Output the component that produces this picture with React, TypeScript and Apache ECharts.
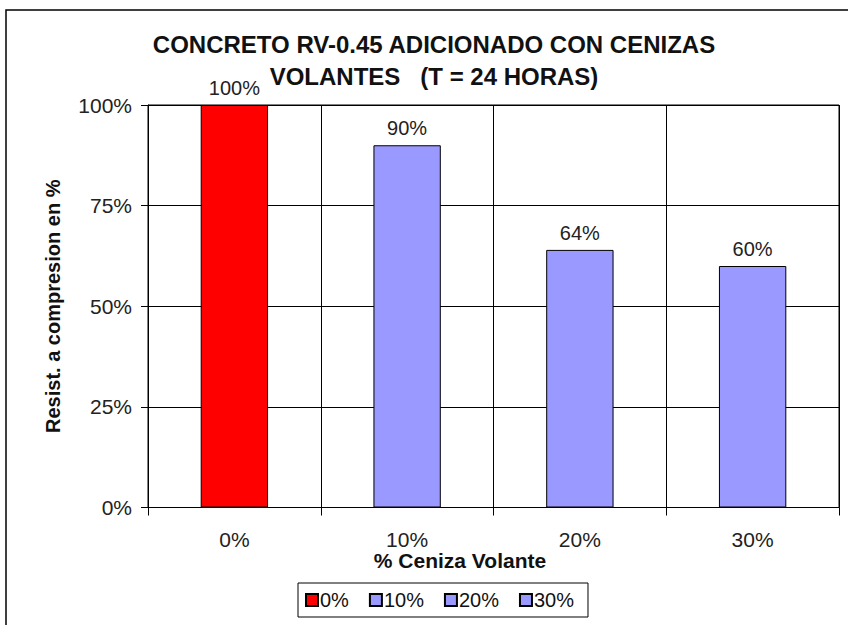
import React, { useEffect, useRef } from "react";
import * as echarts from "echarts";

const categories = ["0%", "10%", "20%", "30%"];
const seriesNames = ["0%", "10%", "20%", "30%"];
const values = [100, 90, 64, 60];
const colors = ["#FF0000", "#9999FF", "#9999FF", "#9999FF"];
const yTicks = [0, 25, 50, 75, 100];

export default function App() {
  const ref = useRef<HTMLDivElement>(null);
  useEffect(() => {
    if (!ref.current) return;
    const chart = echarts.init(ref.current, undefined, { renderer: "svg" });
    const font = "Liberation Sans, Arial, sans-serif";
    const series = seriesNames.map((name, i) => ({
      name,
      type: "bar",
      stack: "s",
      barWidth: "39%",
      data: categories.map((_, j) => (j === i ? values[i] : "-")),
      itemStyle: { color: colors[i], borderColor: "#000", borderWidth: 1 },
      label: {
        show: true,
        position: "top",
        distance: 7,
        formatter: "{c}%",
        fontFamily: font,
        fontSize: 20,
        color: "#222",
      },
    }));
    chart.setOption({
      animation: false,
      backgroundColor: "#fff",
      title: {
        text: "CONCRETO RV-0.45 ADICIONADO CON CENIZAS\nVOLANTES   (T = 24 HORAS)",
        left: 434,
        top: 29,
        padding: 0,
        textAlign: "center",
        textStyle: {
          fontFamily: font,
          fontSize: 24,
          fontWeight: "bold",
          color: "#111",
          lineHeight: 31.5,
        },
      },
      legend: {
        data: seriesNames,
        left: 298,
        top: 583,
        orient: "horizontal",
        itemWidth: 12,
        itemHeight: 12,
        itemGap: 20,
        icon: "rect",
        padding: [7, 14, 7, 7],
        borderColor: "#000",
        borderWidth: 1,
        textStyle: { fontFamily: font, fontSize: 20, color: "#111", padding: [0, 0, 0, -3] },
      },
      grid: {
        left: 148,
        top: 105,
        right: 9,
        bottom: 117.5,
        show: true,
        borderColor: "#000",
        borderWidth: 1,
      },
      xAxis: {
        type: "category",
        data: categories,
        axisLine: { lineStyle: { color: "#000" } },
        axisTick: { show: true, length: 8, lineStyle: { color: "#000" } },
        splitLine: { show: true, lineStyle: { color: "#000" } },
        axisLabel: { fontFamily: font, fontSize: 21, color: "#222", margin: 21 },
      },
      yAxis: {
        type: "value",
        min: yTicks[0],
        max: yTicks[yTicks.length - 1],
        interval: 25,
        name: "Resist. a compresion en %",
        nameLocation: "middle",
        nameGap: 85,
        nameTextStyle: { fontFamily: font, fontSize: 20, fontWeight: "bold", color: "#111" },
        axisLine: { show: true, lineStyle: { color: "#000" } },
        axisTick: { show: true, length: 7, lineStyle: { color: "#000" } },
        splitLine: { show: true, lineStyle: { color: "#000" } },
        axisLabel: { formatter: "{value}%", fontFamily: font, fontSize: 21, color: "#222", margin: 16 },
      },
      graphic: [
        {
          type: "rect",
          shape: { x: 6, y: 10, width: 900, height: 700 },
          style: { fill: "none", stroke: "#000", lineWidth: 1.5 },
          silent: true,
        },
        {
          type: "text",
          x: 460,
          y: 560,
          style: {
            text: "% Ceniza Volante",
            fontFamily: font,
            fontSize: 21,
            fontWeight: "bold",
            fill: "#111",
            textAlign: "center",
            textVerticalAlign: "middle",
          },
        },
      ],
      series,
    });
    return () => chart.dispose();
  }, []);
  return <div ref={ref} style={{ width: 848, height: 625, position: "absolute", left: 0, top: 0 }} />;
}
